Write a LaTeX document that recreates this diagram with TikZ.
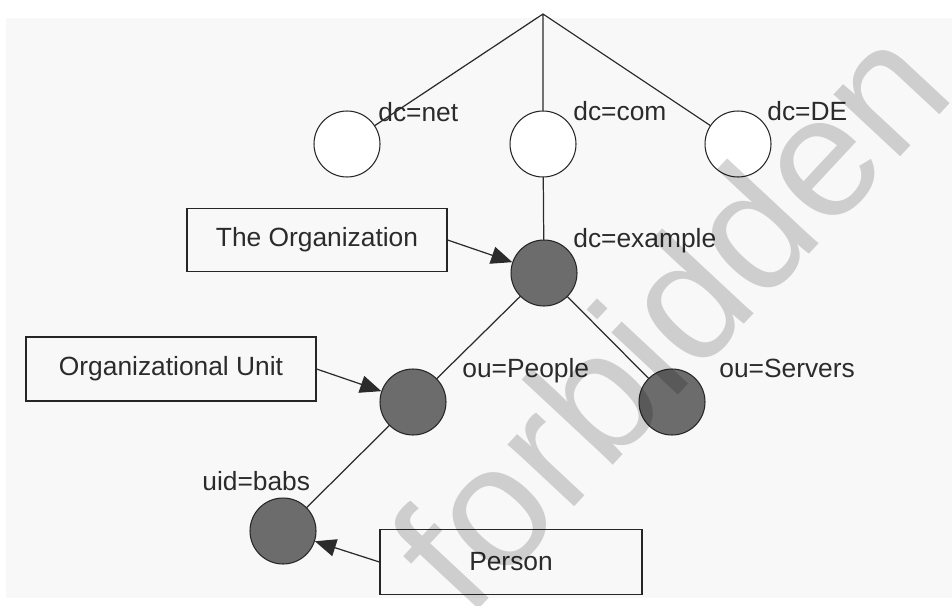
\documentclass[tikz,border=0pt]{standalone}
\usepackage{fontspec}
\setmainfont{Liberation Sans}
\usetikzlibrary{arrows.meta}
\definecolor{ink}{HTML}{2B2B2B}
\definecolor{slate}{HTML}{6C6C6C}
\definecolor{paper}{HTML}{F8F8F8}

\begin{document}
\begin{tikzpicture}[x=0.02cm, y=-0.02cm, line cap=round, font=\fontsize{15}{18}\selectfont,
  entry/.style={circle, draw=black!85, line width=0.6pt, minimum size=1.32cm, inner sep=0pt},
  hollow/.style={entry, fill=white},
  filled/.style={entry, fill=slate},
  tag/.style={inner sep=0pt, text=ink, anchor=base west},
  note/.style={draw=black!85, line width=0.7pt, minimum height=1.26cm, text=ink},
  link/.style={draw=ink, line width=0.7pt},
  pointer/.style={link, -{Triangle[length=12pt, width=10pt]}}]
  \useasboundingbox (0,0) rectangle (952,605);
  \fill[paper] (6,18) rectangle (952,598);
  % directory tree
  \coordinate (root) at (543,14);
  \node[hollow] (net) at (347,144) {};
  \node[hollow] (com) at (543,144) {};
  \node[hollow] (de) at (738,144) {};
  \node[filled] (example) at (544,273) {};
  \node[filled] (people) at (413,402) {};
  \node[filled] (servers) at (672,402) {};
  \node[filled] (babs) at (283,531) {};
  \draw[link] (root) -- (net) (root) -- (com) (root) -- (de)
    (com) -- (example) (example) -- (people) (example) -- (servers) (people) -- (babs);
  % entry names
  \node[tag] (netname) at (378,121) {dc=net};
  \node[tag] (comname) at (573,120) {dc=com};
  \node[tag] (dename) at (767,120) {dc=DE};
  \node[tag] (examplename) at (573,247) {dc=example};
  \node[tag] (peoplename) at (462,377) {ou=People};
  \node[tag] (serversname) at (719,377) {ou=Servers};
  \node[tag] (babsname) at (202,490) {uid=babs};
  % explanations
  \node[note, minimum width=5.2cm] (orgbox) at (317,240) {The Organization};
  \node[note, minimum width=5.8cm, minimum height=1.28cm] (unitbox) at (171,369) {Organizational Unit};
  \node[note, minimum width=5.24cm, minimum height=1.3cm] (personbox) at (511,562) {Person};
  \draw[pointer] (orgbox.east) -- (example);
  \draw[pointer] (unitbox.east) -- (people);
  \draw[pointer] (personbox.west) -- (babs);
  % watermark
  \node[text=black, text opacity=0.17, rotate=47, inner sep=0pt, font=\fontsize{98}{100}\selectfont] (stamp) at (668,316) {forbidden};
\end{tikzpicture}
\end{document}
